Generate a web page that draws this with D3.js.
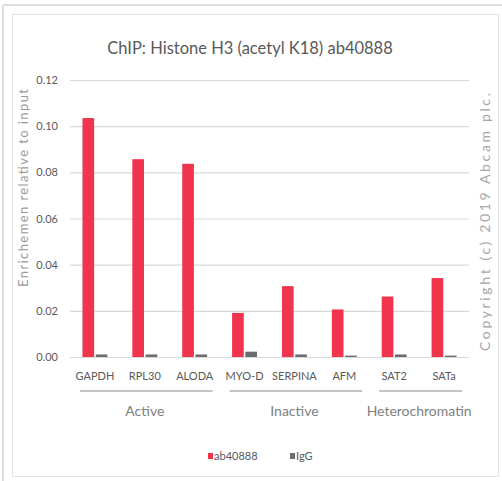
<!DOCTYPE html>
<html><head><meta charset="utf-8">
<script src="https://cdn.jsdelivr.net/npm/d3@7/dist/d3.min.js"></script>
<style>body{margin:0;background:#fff;} text{font-family:Lato,"Open Sans",sans-serif;}</style>
</head><body><svg id="c" width="502" height="481"></svg>
<script>
const categories = ["GAPDH","RPL30","ALODA","MYO-D","SERPINA","AFM","SAT2","SATa"];
const series = ["ab40888","IgG"];
const ab40888 = [0.1035,0.0857,0.0837,0.0191,0.0307,0.0206,0.0262,0.0342];
const igg = [0.0011,0.0011,0.0011,0.0023,0.0011,0.0006,0.0011,0.0006];
const groups = [["Active",0,2],["Inactive",3,5],["Heterochromatin",6,7]];
const yTicks = [0,0.02,0.04,0.06,0.08,0.10,0.12];
const colors = {"ab40888":"#f0344e","IgG":"#6b6e70"};

const svg = d3.select("#c");
// frame
svg.append("line").attr("x1",3).attr("x2",502).attr("y1",5).attr("y2",5).attr("stroke","#dcdcdc").attr("stroke-width",2);
svg.append("line").attr("x1",3).attr("x2",3).attr("y1",5).attr("y2",481).attr("stroke","#dcdcdc").attr("stroke-width",2);
svg.append("rect").attr("x",12.5).attr("y",14.5).attr("width",486).attr("height",462).attr("fill","#fff").attr("stroke","#e4e4e4");

const x0 = d3.scaleBand().domain(categories).range([70,469]).padding(0);
const bw = x0.bandwidth();
const x1 = d3.scaleBand().domain(series).range([bw*0.25,bw*0.75]).paddingInner(0.12);
const y = d3.scaleLinear().domain([0,0.12]).range([357,80]);

// grid + y labels
const yAxis = d3.axisLeft(y).tickValues(yTicks).tickFormat(d3.format(".2f")).tickSize(-(469-70)).tickPadding(12);
const ga = svg.append("g").attr("transform","translate(70,0)").call(yAxis);
ga.select(".domain").remove();
ga.selectAll(".tick line").attr("stroke","#d9d9d9").attr("stroke-width",1.2);
ga.selectAll(".tick text").attr("fill","#595959").style("font-size","11px");

// bars
const data = categories.map((c,i)=>({c, vals:[{s:"ab40888",v:ab40888[i]},{s:"IgG",v:igg[i]}]}));
const g = svg.append("g");
const cg = g.selectAll("g").data(data).join("g").attr("transform",d=>`translate(${x0(d.c)},0)`);
cg.selectAll("rect").data(d=>d.vals).join("rect")
  .attr("x",d=>x1(d.s)).attr("width",x1.bandwidth())
  .attr("y",d=>y(d.v)).attr("height",d=>y(0)-y(d.v))
  .attr("fill",d=>colors[d.s]);

// x axis labels
const xa = svg.append("g").attr("transform","translate(0,357)").call(d3.axisBottom(x0).tickSize(0).tickPadding(15));
xa.select(".domain").remove();
xa.selectAll(".tick text").attr("fill","#595959").style("font-size","11px");

// group lines and labels
groups.forEach(([name,a,b])=>{
  const xs = x0(categories[a]) + bw*0.2, xe = x0(categories[b]) + bw*0.86;
  svg.append("line").attr("x1",xs).attr("x2",xe).attr("y1",391).attr("y2",391).attr("stroke","#8c8c8c").attr("stroke-width",1.2);
  svg.append("text").attr("x",(x0(categories[a])+x0(categories[b])+bw)/2).attr("y",416)
    .attr("text-anchor","middle").attr("fill","#808080").style("font-size","14px").text(name);
});

// title
svg.append("text").attr("x",250).attr("y",54).attr("text-anchor","middle").attr("fill","#595959")
  .style("font-size","16.5px").text("ChIP: Histone H3 (acetyl K18) ab40888");

// y title
svg.append("text").attr("transform","translate(28,188) rotate(-90)").attr("text-anchor","middle")
  .attr("fill","#9a9a9a").style("font-size","13px").attr("textLength",198).attr("lengthAdjust","spacing").text("Enrichemen relative to input");

// copyright
svg.append("text").attr("transform","translate(490,222) rotate(-90)").attr("text-anchor","middle")
  .attr("fill","#a6a6a6").style("font-size","14px").attr("textLength",258).attr("lengthAdjust","spacing").text("Copyright (c) 2019 Abcam plc.");

// legend
const leg = svg.append("g").attr("transform","translate(0,456)");
const legX = [208,290];
series.forEach((s,i)=>{
  leg.append("rect").attr("x",legX[i]).attr("y",-3).attr("width",5).attr("height",6).attr("fill",colors[s]);
  leg.append("text").attr("x",legX[i]+6).attr("y",4).attr("fill","#595959").style("font-size","11px").text(s);
});
</script></body></html>
